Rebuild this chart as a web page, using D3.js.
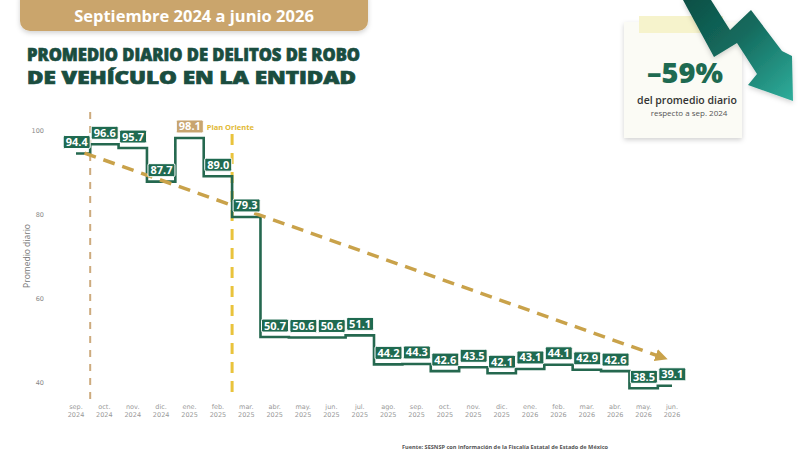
<!DOCTYPE html>
<html><head><meta charset="utf-8">
<script src="https://cdn.jsdelivr.net/npm/d3@7"></script>
<style>html,body{margin:0;padding:0;background:#fff;}svg{display:block;}</style>
</head><body><svg id="c" width="800" height="459"></svg>
<script>
const months = ["sep.","oct.","nov.","dic.","ene.","feb.","mar.","abr.","may.","jun.","jul.","ago.","sep.","oct.","nov.","dic.","ene.","feb.","mar.","abr.","may.","jun."];
const years = ["2024","2024","2024","2024","2025","2025","2025","2025","2025","2025","2025","2025","2025","2025","2025","2025","2026","2026","2026","2026","2026","2026"];
const values = [94.4,96.6,95.7,87.7,98.1,89.0,79.3,50.7,50.6,50.6,51.1,44.2,44.3,42.6,43.5,42.1,43.1,44.1,42.9,42.6,38.5,39.1];
const yTicks = [40,60,80,100];
const trendStart = [0.3, 94.5];
const trendEnd = [20.85, 45.4];
const highlightIndex = 4;
const markerStart = 0.5;   // start (between sep and oct 2024)
const markerPlan = 5.5;    // Plan Oriente (between feb and mar 2025)

const svg = d3.select("#c");
const defs = svg.append("defs");
const f = defs.append("filter").attr("id","sh").attr("x","-20%").attr("y","-20%").attr("width","140%").attr("height","150%");
f.append("feDropShadow").attr("dx",0).attr("dy",2).attr("stdDeviation",2.5).attr("flood-color","#000").attr("flood-opacity",0.18);
const g1 = defs.append("linearGradient").attr("id","ag").attr("x1","0").attr("y1","0").attr("x2","1").attr("y2","1");
g1.append("stop").attr("offset","0").attr("stop-color","#0c4f45");
g1.append("stop").attr("offset","0.45").attr("stop-color","#146b5e");
g1.append("stop").attr("offset","1").attr("stop-color","#2fae9c");
defs.append("marker").attr("id","ah").attr("viewBox","0 0 10 10").attr("refX",5).attr("refY",5)
  .attr("markerWidth",3.6).attr("markerHeight",3.6).attr("orient","auto")
  .append("path").attr("d","M0,0 L10,5 L0,10 Z").attr("fill","#c9a24a");

// header
svg.append("rect").attr("x",20).attr("y",-12).attr("width",348).attr("height",43).attr("rx",10)
  .attr("fill","#caa56c").attr("filter","url(#sh)");
svg.append("text").attr("x",194).attr("y",22).attr("text-anchor","middle")
  .attr("font-family","Open Sans").attr("font-weight",700).attr("font-size",16.5).attr("fill","#fff")
  .text("Septiembre 2024 a junio 2026");

// title
const tt = [["PROMEDIO DIARIO DE DELITOS DE ROBO",60.5,333],["DE VEHÍCULO EN LA ENTIDAD",84,329]];
tt.forEach(([t,y,w])=>{
  svg.append("text").attr("x",27).attr("y",y).attr("font-family","Open Sans").attr("font-weight",800)
    .attr("font-size",17.2).attr("fill","#1a4d3f").attr("stroke","#1a4d3f").attr("stroke-width",0.7)
    .attr("textLength",w).attr("lengthAdjust","spacingAndGlyphs").text(t);
});

// scales
const x = d3.scaleLinear().domain([0, values.length-1]).range([76, 672]);
const y = d3.scaleLinear().domain([40, 100]).range([382, 130]);

// y tick labels
svg.append("g").selectAll("text").data(yTicks).join("text")
  .attr("x",44).attr("y",d=>y(d)+2.5).attr("text-anchor","end")
  .attr("font-family","DejaVu Sans").attr("font-size",6.5).attr("fill","#888").text(d=>d);
svg.append("text").attr("transform","translate(30,256) rotate(-90)").attr("text-anchor","middle")
  .attr("font-family","Open Sans").attr("font-size",8.5).attr("fill","#777").text("Promedio diario");

// x tick labels
const xl = svg.append("g").selectAll("text").data(values).join("text")
  .attr("text-anchor","middle").attr("font-family","DejaVu Sans").attr("font-size",6.5).attr("fill","#999");
xl.append("tspan").attr("x",(d,i)=>x(i)).attr("y",409).text((d,i)=>months[i]);
xl.append("tspan").attr("x",(d,i)=>x(i)).attr("y",416.5).text((d,i)=>years[i]);

// vertical markers
svg.append("line").attr("x1",x(markerStart)).attr("x2",x(markerStart)).attr("y1",112).attr("y2",401)
  .attr("stroke","#cdab7e").attr("stroke-width",2).attr("stroke-dasharray","7 7");
svg.append("line").attr("x1",x(markerPlan)).attr("x2",x(markerPlan)).attr("y1",134).attr("y2",396)
  .attr("stroke","#e9c33c").attr("stroke-width",3).attr("stroke-dasharray","11 8");

// step line
const line = d3.line().x((d,i)=>x(i)).y(d=>y(d)).curve(d3.curveStep);
svg.append("path").attr("d",line(values)).attr("fill","none").attr("stroke","#25684f").attr("stroke-width",2.6);

// trend
svg.append("line").attr("x1",x(trendStart[0])).attr("y1",y(trendStart[1]))
  .attr("x2",x(trendEnd[0])-6).attr("y2",y(trendEnd[1])-2.1)
  .attr("stroke","#c9a24a").attr("stroke-width",3.5).attr("stroke-dasharray","12 8")
  .attr("marker-end","url(#ah)");

// labels
const bw = 27, bh = 13;
const lb = svg.append("g").selectAll("g").data(values).join("g")
  .attr("transform",(d,i)=>{
    const lx = i===0 ? x(0.5)-bw : x(i-0.5)+1;
    return `translate(${lx},${y(d)-5-bh})`;
  });
lb.append("rect").attr("width",bw).attr("height",bh).attr("rx",1.5)
  .attr("fill",(d,i)=>i===highlightIndex?"#c8a56f":"#1f6a50").attr("stroke","#fff").attr("stroke-width",1);
lb.append("text").attr("x",bw/2).attr("y",10.5).attr("text-anchor","middle")
  .attr("font-family","Open Sans").attr("font-weight",700).attr("font-size",11).attr("fill","#fff")
  .text(d=>d.toFixed(1));
svg.append("text").attr("x",x(highlightIndex+0.5)+3).attr("y",y(values[highlightIndex])-8)
  .attr("font-family","Open Sans").attr("font-weight",700).attr("font-size",7.5).attr("fill","#e2b934").text("Plan Oriente");

// source
svg.append("text").attr("x",402).attr("y",449).attr("font-family","Open Sans").attr("font-weight",700)
  .attr("font-size",6).attr("fill","#555").attr("textLength",206).attr("lengthAdjust","spacingAndGlyphs")
  .text("Fuente: SESNSP con información de la Fiscalía Estatal de Estado de México");

// card
svg.append("rect").attr("x",624).attr("y",22).attr("width",118).attr("height",116).attr("fill","#fbfbf5").attr("filter","url(#sh)");
svg.append("rect").attr("x",639).attr("y",16).attr("width",84).attr("height",17).attr("fill","#f5f2c9").attr("opacity",0.95);
svg.append("text").attr("x",685).attr("y",83).attr("text-anchor","middle").attr("font-family","Open Sans")
  .attr("font-weight",800).attr("font-size",29).attr("fill","#1e6a51").text("–59%");
svg.append("text").attr("x",687).attr("y",104).attr("text-anchor","middle").attr("font-family","Open Sans")
  .attr("font-weight",600).attr("font-size",10.5).attr("fill","#333").text("del promedio diario");
svg.append("text").attr("x",689).attr("y",116).attr("text-anchor","middle").attr("font-family","Open Sans")
  .attr("font-size",8).attr("fill","#555").text("respecto a sep. 2024");
// arrow
svg.append("path").attr("d","M683,0 L711,0 L730,30 L751,10 L782,51 L792,56 L793,101 L748,85 L757,74 L737,43 L714,57 Z")
  .attr("fill","url(#ag)").attr("filter","url(#sh)");
</script></body></html>
